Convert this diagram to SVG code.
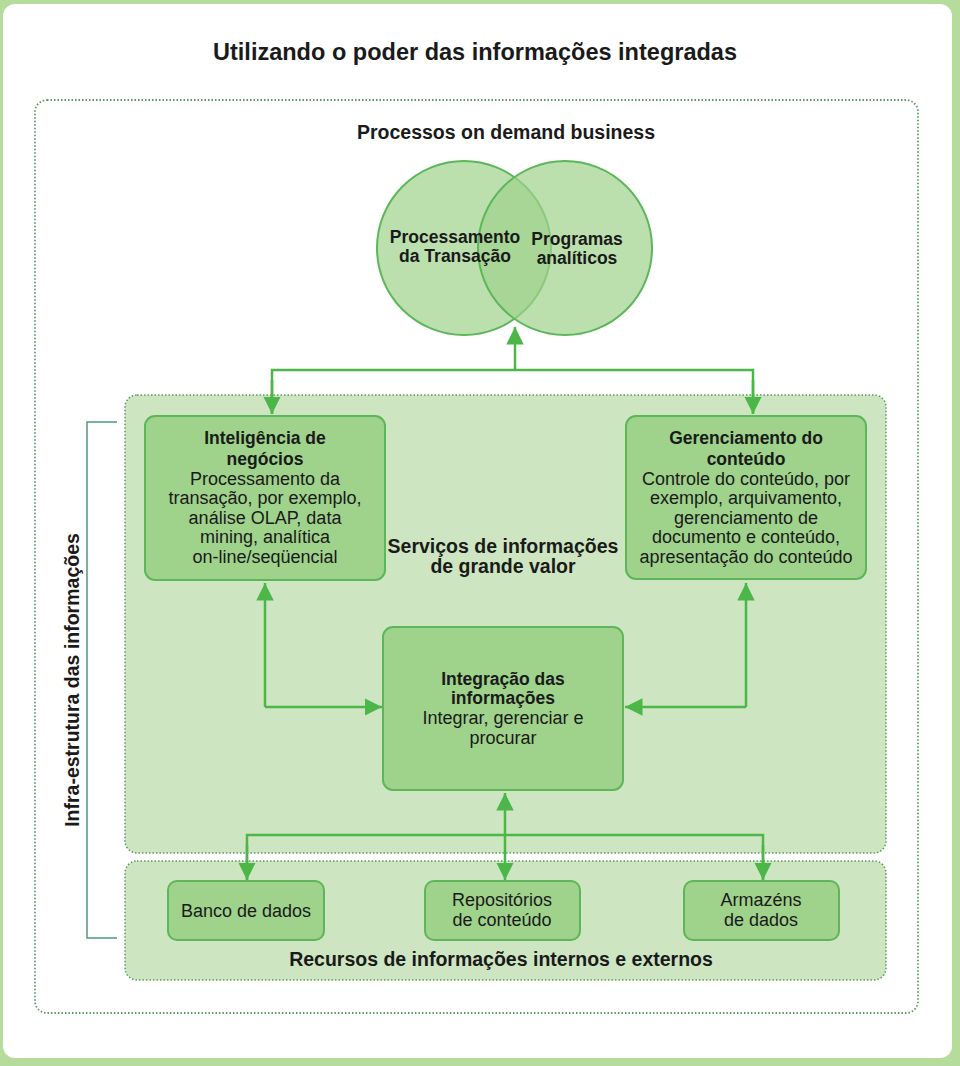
<svg xmlns="http://www.w3.org/2000/svg" width="960" height="1066" viewBox="0 0 960 1066">
<defs>
<style>
.t{font-family:"Liberation Sans",Arial,sans-serif;fill:#1a1a1a;text-anchor:middle}
.b{font-weight:bold}
.n{font-size:18px}
.bb{font-size:17.5px;font-weight:bold}
.box{fill:#9fd28b;stroke:#5db65a;stroke-width:2}
.reg{fill:#cde6c1;stroke:#5c9a5c;stroke-width:1.5;stroke-dasharray:1.5 2}
.con{fill:none;stroke:#4cb648;stroke-width:2.5}
.circ{fill:#9fd28b;fill-opacity:0.7;stroke:#5db65a;stroke-width:2}
</style>
<marker id="ah" viewBox="0 0 10 10" refX="10" refY="5" markerWidth="7" markerHeight="7" markerUnits="strokeWidth" orient="auto"><path d="M0,0L10,5L0,10z" fill="#4cb648"/></marker>
</defs>
<rect x="0" y="0" width="960" height="1066" fill="#b6dc9b"/>
<rect x="3" y="4" width="949" height="1054" rx="12" fill="#ffffff"/>
<text class="t b" x="475" y="60" font-size="24" textLength="524" lengthAdjust="spacingAndGlyphs">Utilizando o poder das informações integradas</text>
<rect x="35" y="100" width="883" height="913" rx="12" fill="none" stroke="#5c9a5c" stroke-width="1.8" stroke-dasharray="1.5 2"/>
<text class="t b" x="506" y="139" font-size="19.5">Processos on demand business</text>

<g id="venn">
<circle class="circ" cx="464" cy="248" r="87"/>
<circle class="circ" cx="565" cy="248" r="87"/>
<text class="t bb" x="455" y="243">Processamento</text>
<text class="t bb" x="455" y="262">da Transação</text>
<text class="t bb" x="577" y="245">Programas</text>
<text class="t bb" x="577" y="264">analíticos</text>
</g>

<g id="servicos">
<rect class="reg" x="125" y="395" width="761" height="458" rx="12"/>
<text class="t b" x="503" y="553" font-size="19.5">Serviços de informações</text>
<text class="t b" x="503" y="573" font-size="19.5">de grande valor</text>
</g>
<g id="recursos">
<rect class="reg" x="125" y="861" width="761" height="119" rx="12"/>
<text class="t b" x="501" y="966" font-size="19.5">Recursos de informações internos e externos</text>
</g>

<g id="infra">
<path d="M117,422H87V938H117" fill="none" stroke="#4e9a78" stroke-width="1.5"/>
<text class="t b" transform="translate(79,680) rotate(-90)" font-size="19.5">Infra-estrutura das informações</text>
</g>

<g id="bi">
<rect class="box" x="145" y="416" width="240" height="164" rx="10"/>
<text class="t bb" x="265" y="444">Inteligência de</text>
<text class="t bb" x="265" y="465">negócios</text>
<text class="t n" x="265" y="485">Processamento da</text>
<text class="t n" x="265" y="504">transação, por exemplo,</text>
<text class="t n" x="265" y="524">análise OLAP, data</text>
<text class="t n" x="265" y="543">mining, analítica</text>
<text class="t n" x="265" y="563">on-line/seqüencial</text>
</g>

<g id="cm">
<rect class="box" x="626" y="416" width="240" height="163" rx="10"/>
<text class="t bb" x="746" y="444">Gerenciamento do</text>
<text class="t bb" x="746" y="465">conteúdo</text>
<text class="t n" x="746" y="485">Controle do conteúdo, por</text>
<text class="t n" x="746" y="504">exemplo, arquivamento,</text>
<text class="t n" x="746" y="524">gerenciamento de</text>
<text class="t n" x="746" y="543">documento e conteúdo,</text>
<text class="t n" x="746" y="563">apresentação do conteúdo</text>
</g>

<g id="integ">
<rect class="box" x="383" y="627" width="240" height="163" rx="10"/>
<text class="t bb" x="503" y="685">Integração das</text>
<text class="t bb" x="503" y="704">informações</text>
<text class="t n" x="503" y="724">Integrar, gerenciar e</text>
<text class="t n" x="503" y="744">procurar</text>
</g>

<g id="banco">
<rect class="box" x="168" y="881" width="156" height="59" rx="9"/>
<text class="t n" x="246" y="917">Banco de dados</text>
</g>
<g id="repo">
<rect class="box" x="425" y="881" width="155" height="59" rx="9"/>
<text class="t n" x="502" y="906">Repositórios</text>
<text class="t n" x="502" y="926">de conteúdo</text>
</g>
<g id="armaz">
<rect class="box" x="684" y="881" width="155" height="59" rx="9"/>
<text class="t n" x="761" y="906">Armazéns</text>
<text class="t n" x="761" y="926">de dados</text>
</g>

<g id="connectors">
<path class="con" d="M515,370V327" marker-end="url(#ah)"/>
<path class="con" d="M272,414V370H753V414"/>
<path class="con" d="M272,380V414" marker-end="url(#ah)"/>
<path class="con" d="M753,380V414" marker-end="url(#ah)"/>
<path class="con" d="M265,707V583" marker-end="url(#ah)"/>
<path class="con" d="M265,707H382" marker-end="url(#ah)"/>
<path class="con" d="M746,707V583" marker-end="url(#ah)"/>
<path class="con" d="M746,707H625" marker-end="url(#ah)"/>
<path class="con" d="M505,835V793" marker-end="url(#ah)"/>
<path class="con" d="M247,880V835H763V880"/>
<path class="con" d="M247,845V880" marker-end="url(#ah)"/>
<path class="con" d="M505,835V880" marker-end="url(#ah)"/>
<path class="con" d="M763,845V880" marker-end="url(#ah)"/>
</g>
</svg>
